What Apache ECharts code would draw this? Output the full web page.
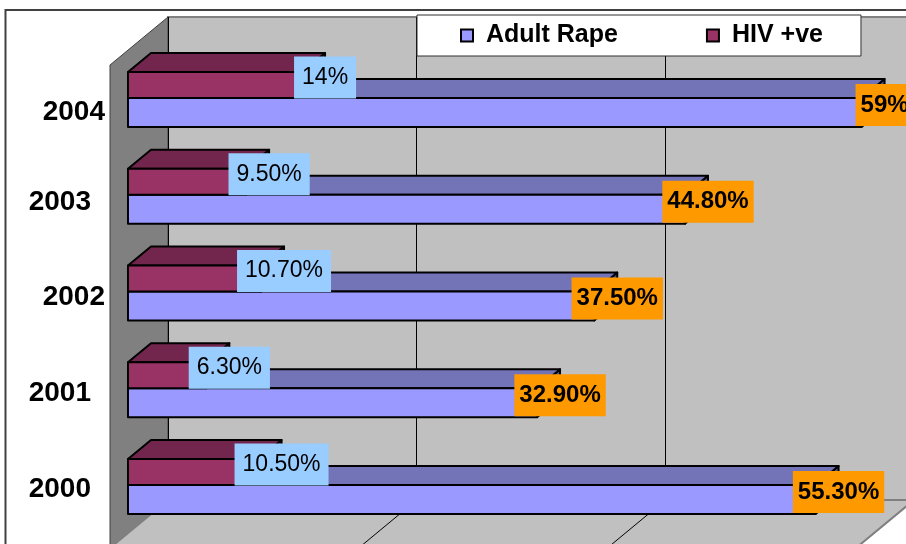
<!DOCTYPE html>
<html>
<head>
<meta charset="utf-8" />
<title>Adult Rape / HIV +ve</title>
<style>
  html, body { margin: 0; padding: 0; background: #fff; }
  #chart { width: 906px; height: 544px; }
</style>
</head>
<body>
<div id="chart"></div>
<script src="https://cdn.jsdelivr.net/npm/echarts@6/dist/echarts.min.js"></script>
<script>
// data, bottom row first
var years = ['2000', '2001', '2002', '2003', '2004'];
var adultRape = [55.3, 32.9, 37.5, 44.8, 59];
var hivPositive = [10.5, 6.3, 10.7, 9.5, 14];
var axisTicks = [20, 40, 60];

var FONT = '"Liberation Sans", Arial, sans-serif';
var BAR_DX = 23, BAR_DY = 19;     // depth of one bar
var WALL_DX = 40, FLOOR_DX = 18;  // bar front to back wall / to floor edge

function pct(v) {
  return Number.isInteger(v) ? v + '%' : v.toFixed(2) + '%';
}

function yearStyle(pad) {
  return { fontFamily: FONT, fontWeight: 'bold', fontSize: 28, color: '#000', padding: pad };
}

// draws a 3d box: side, top, front, then the value label
function box3d(opt) {
  return function (params, api) {
    var p = api.coord([api.value(0), api.value(1)]);
    var x0 = api.coord([0, api.value(1)])[0];
    var x1 = p[0];
    var y0 = p[1] + opt.from;
    var y1 = p[1] + opt.to;
    var line = { stroke: '#000', lineWidth: 2, lineJoin: 'round' };
    return {
      type: 'group',
      children: [
        { type: 'polygon', shape: { points: [[x1, y0], [x1 + BAR_DX, y0 - BAR_DY], [x1 + BAR_DX, y1 - BAR_DY], [x1, y1]] },
          style: Object.assign({ fill: opt.side }, line) },
        { type: 'polygon', shape: { points: [[x0, y0], [x0 + BAR_DX, y0 - BAR_DY], [x1 + BAR_DX, y0 - BAR_DY], [x1, y0]] },
          style: Object.assign({ fill: opt.top }, line) },
        { type: 'rect', shape: { x: x0, y: y0, width: x1 - x0, height: y1 - y0 },
          style: Object.assign({ fill: opt.front }, line) },
        { type: 'text', style: {
            text: pct(api.value(0)), x: x1 + BAR_DX, y: p[1] + opt.labelY,
            align: 'center', verticalAlign: 'middle',
            font: opt.font, fill: '#000',
            backgroundColor: opt.labelBg, padding: opt.labelPad } }
      ]
    };
  };
}

function toRows(values) {
  return values.map(function (v, i) { return [v, i]; });
}

var chart = echarts.init(document.getElementById('chart'));

chart.setOption({
  animation: false,
  backgroundColor: '#fff',
  textStyle: { fontFamily: FONT },
  grid: [
    { left: 128, top: 49.6, width: 746, height: 483.75, outerBoundsMode: 'none' },
    // back wall
    { left: 168, top: 17, width: 746, height: 483, show: true, backgroundColor: '#c0c0c0',
      borderColor: '#808080', borderWidth: 2, z: -2, outerBoundsMode: 'none' }
  ],
  xAxis: [
    { gridIndex: 0, type: 'value', min: 0, max: 60, interval: 20, show: false },
    { gridIndex: 1, type: 'value', min: 0, max: 60, interval: 20, z: -1,
      axisLine: { show: false }, axisTick: { show: false }, axisLabel: { show: false },
      splitLine: { show: true, lineStyle: { color: '#000', width: 1 } } }
  ],
  yAxis: [
    { gridIndex: 0, type: 'category', data: years,
      axisLine: { show: false }, axisTick: { show: false },
      axisLabel: {
        margin: 23,
        formatter: function (v) { return '{y' + v + '|' + v + '}'; },
        rich: {
          y2000: yearStyle([8, 14, 0, 0]),
          y2001: yearStyle([10, 14, 0, 0]),
          y2002: yearStyle([12, 0, 0, 0]),
          y2003: yearStyle([16, 14, 0, 0]),
          y2004: yearStyle([28, 0, 0, 0])
        }
      } },
    { gridIndex: 1, type: 'category', data: years, show: false }
  ],
  legend: {
    data: ['Adult Rape', 'HIV +ve'],
    left: 417, top: 15,
    padding: [8, 38, 8, 43],
    itemGap: 88,
    itemWidth: 12, itemHeight: 12, itemStyle: { borderColor: '#000', borderWidth: 2 },
    icon: 'rect',
    backgroundColor: '#fff', borderColor: '#303030', borderWidth: 1,
    textStyle: { fontFamily: FONT, fontWeight: 'bold', fontSize: 25, color: '#000', padding: [0, 0, 0, 8] }
  },
  graphic: [
    // outer frame
    { type: 'polyline', z: -20, shape: { points: [[5.5, 544], [5.5, 10], [906, 10]] },
      style: { fill: 'none', stroke: '#404040', lineWidth: 2 } },
    // side wall
    { type: 'polygon', z: -1, shape: { points: [[110, 65], [168, 17], [168, 500], [110, 548]] },
      style: { fill: '#808080', stroke: '#404040', lineWidth: 1 } },
    // floor
    { type: 'polygon', z: -1, shape: { points: [[168, 500], [914, 500], [856, 548], [110, 548]] },
      style: { fill: '#c0c0c0', stroke: '#808080', lineWidth: 2 } }
  ],
  series: [
    { // floor gridlines
      type: 'custom', name: 'floor', coordinateSystem: 'cartesian2d', xAxisIndex: 0, yAxisIndex: 0,
      silent: true, clip: false, z: 0,
      data: axisTicks.map(function (t) { return [t, 0]; }),
      renderItem: function (params, api) {
        var x = api.coord([api.value(0), 0])[0];
        return { type: 'line', shape: { x1: x + WALL_DX, y1: 500, x2: x - FLOOR_DX, y2: 548 },
          style: { stroke: api.value(0) < 60 ? '#000' : '#808080', lineWidth: 1 } };
      }
    },
    {
      type: 'custom', name: 'Adult Rape', coordinateSystem: 'cartesian2d', xAxisIndex: 0, yAxisIndex: 0,
      clip: false, z: 2, itemStyle: { color: '#9999ff' },
      data: toRows(adultRape),
      renderItem: box3d({ from: 0, to: 29, front: '#9999ff', top: '#7373b8', side: '#50508c',
        labelY: 7, labelBg: '#ff9900', labelPad: [9, 5, 9, 5], font: 'bold 24px ' + FONT })
    },
    {
      type: 'custom', name: 'HIV +ve', coordinateSystem: 'cartesian2d', xAxisIndex: 0, yAxisIndex: 0,
      clip: false, z: 3, itemStyle: { color: '#993366' },
      data: toRows(hivPositive),
      renderItem: box3d({ from: -26, to: 0, front: '#993366', top: '#73264d', side: '#4d1a35',
        labelY: -20.5, labelBg: '#99ccff', labelPad: [8, 8, 11, 8], font: '23px ' + FONT })
    }
  ]
});

window.onresize = function () { chart.resize(); };
</script>
</body>
</html>
